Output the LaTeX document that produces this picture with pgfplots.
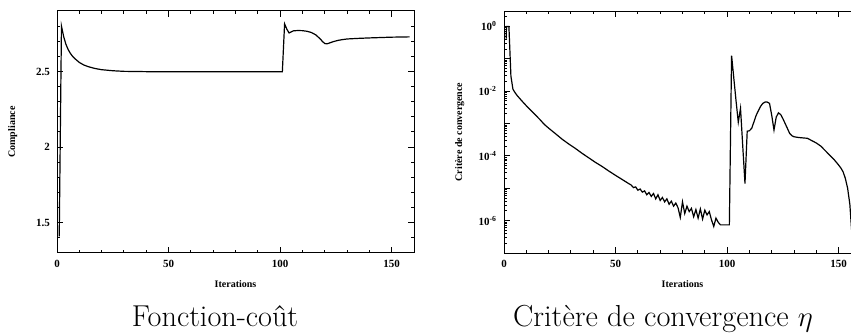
\documentclass[border=0pt]{standalone}
\usepackage{fontspec}
\usepackage{pgfplots}
\pgfplotsset{compat=1.18}
\newfontfamily\timesfont{Liberation Serif}
\newcommand\tickfont{\timesfont\bfseries\fontsize{5.5}{6}\selectfont}
\newcommand\labfont{\timesfont\bfseries\fontsize{5}{6}\selectfont}
\pgfplotsset{common/.style={
  scale only axis, width=178.5pt, height=121pt, anchor=south west,
  xmin=0, xmax=160, xtick={0,50,100,150}, minor x tick num=4,
  tick align=inside, major tick length=2.8pt, minor tick length=1.5pt,
  every tick/.style={line width=0.5pt, black},
  axis line style={line width=0.5pt},
  ticklabel style={font=\tickfont},
  /pgf/number format/assume math mode=true,
  label style={font=\labfont},
  xlabel={Iterations},
  xlabel style={at={(axis description cs:0.5,-0.128)}, anchor=center},
  ylabel style={at={(axis description cs:-0.124,0.5)}, anchor=center},
  every axis plot/.append style={line width=0.6pt, black},
}}
\begin{document}
\begin{tikzpicture}
\useasboundingbox (0,0) rectangle (425.5pt,166pt);
\begin{axis}[common, at={(28.5pt,39.5pt)},
  ymin=1.3, ymax=2.9, ytick={1.5,2,2.5},
  minor ytick={1.3,1.4,1.6,1.7,1.8,1.9,2.1,2.2,2.3,2.4,2.6,2.7,2.8,2.9},
  ylabel={Compliance}]
\addplot[mark=none] coordinates {
(1,1.41)(2,2.80)(3,2.73)(4,2.68)(5,2.645)(6,2.62)(7,2.60)(8,2.585)(10,2.56)
(12,2.543)(14,2.532)(17,2.52)(20,2.512)(25,2.505)(30,2.501)(40,2.499)(101,2.499)
(102,2.815)(103,2.78)(104,2.755)(105,2.762)(106,2.769)(108,2.771)(110,2.770)
(112,2.766)(114,2.758)(116,2.742)(118,2.715)(119,2.698)(120,2.685)(121,2.683)
(122,2.688)(124,2.698)(126,2.706)(128,2.711)(130,2.715)(135,2.719)(140,2.722)
(150,2.727)(158,2.729)};
\end{axis}
\begin{axis}[common, at={(252pt,39.5pt)},
  ymode=log, ymin=1e-7, ymax=3,
  ytick={1e-7,1e-6,1e-5,1e-4,1e-3,1e-2,1e-1,1},
  yticklabels={,10\textsuperscript{-6},,10\textsuperscript{-4},,10\textsuperscript{-2},,10\textsuperscript{0}},
  minor ytick={2e-7,3e-7,4e-7,5e-7,6e-7,7e-7,8e-7,9e-7,
    2e-6,3e-6,4e-6,5e-6,6e-6,7e-6,8e-6,9e-6,
    2e-5,3e-5,4e-5,5e-5,6e-5,7e-5,8e-5,9e-5,
    2e-4,3e-4,4e-4,5e-4,6e-4,7e-4,8e-4,9e-4,
    2e-3,3e-3,4e-3,5e-3,6e-3,7e-3,8e-3,9e-3,
    2e-2,3e-2,4e-2,5e-2,6e-2,7e-2,8e-2,9e-2,
    0.2,0.3,0.4,0.5,0.6,0.7,0.8,0.9,2},
  ylabel={Critère de convergence}]
\addplot[mark=none] coordinates {
(1,0.42)(1.1,1)(2.2,1)(3.1,0.029)(4,0.0115)(5,0.0089)(6,0.0072)(7,0.0060)(8,0.0050)
(10,0.00355)(12,0.00257)(14,0.00186)(16,0.00135)(18,9.5e-4)(20,7.2e-4)(23,4.9e-4)
(26,3.3e-4)(29,2.34e-4)(32,1.70e-4)(35,1.20e-4)(38,8.7e-5)(41,6.3e-5)(44,4.7e-5)
(47,3.4e-5)(50,2.5e-5)(53,1.86e-5)(56,1.38e-5)(57,1.26e-5)(58,1.05e-5)(59,1.10e-5)
(60,8.7e-6)(61,9.5e-6)(62,7.6e-6)(63,8.3e-6)(64,6.3e-6)(65,7.4e-6)(66,5.6e-6)
(67,6.9e-6)(68,4.7e-6)(69,6.3e-6)(70,4.2e-6)(71,5.2e-6)(72,3.8e-6)(73,4.7e-6)
(74,3.2e-6)(75,4.0e-6)(76,2.8e-6)(77,3.5e-6)(78,2.5e-6)(79,1.26e-6)(80,3.8e-6)
(81,1.66e-6)(82,2.8e-6)(83,1.9e-6)(84,2.4e-6)(85,1.32e-6)(86,2.2e-6)(87,1.2e-6)
(88,2.3e-6)(89,1.12e-6)(90,2.1e-6)(91,1.5e-6)(92,1.9e-6)(93,1.05e-6)(94,6.6e-7)
(95,1.2e-6)(96,8.9e-7)(97,7.4e-7)(98,7.4e-7)(99,7.4e-7)(100,7.4e-7)(101,7.4e-7)
(102,0.126)(103,0.025)(104,0.005)(105,1.1e-3)(106,2.95e-3)(107,2.0e-4)(108,1.4e-5)
(109,5.8e-4)(110,6.0e-4)(111,7.1e-4)(112,1.12e-3)(113,1.78e-3)(114,2.5e-3)
(115,3.4e-3)(116,4.2e-3)(117,4.6e-3)(118,4.6e-3)(119,4.2e-3)(120,1.78e-3)
(121,6.3e-4)(122,1.58e-3)(123,2.14e-3)(124,1.9e-3)(125,1.41e-3)(126,1.0e-3)
(127,7.1e-4)(128,5.0e-4)(129,4.2e-4)(130,3.9e-4)(132,3.7e-4)(134,3.6e-4)
(136,3.5e-4)(138,2.95e-4)(140,2.5e-4)(142,2.0e-4)(144,1.45e-4)(146,1.05e-4)
(148,7.6e-5)(150,5.2e-5)(151,4.2e-5)(152,3.2e-5)(153,2.0e-5)(154,1.0e-5)
(155,3.2e-6)(156,3.2e-7)};
\end{axis}
\node[anchor=base, font=\fontsize{15.1}{18}\selectfont] at (107.5pt,3pt) {Fonction-coût};
\node[anchor=base, font=\fontsize{15.2}{18}\selectfont] at (331.5pt,3pt) {Critère de convergence $\eta$};
\end{tikzpicture}
\end{document}
